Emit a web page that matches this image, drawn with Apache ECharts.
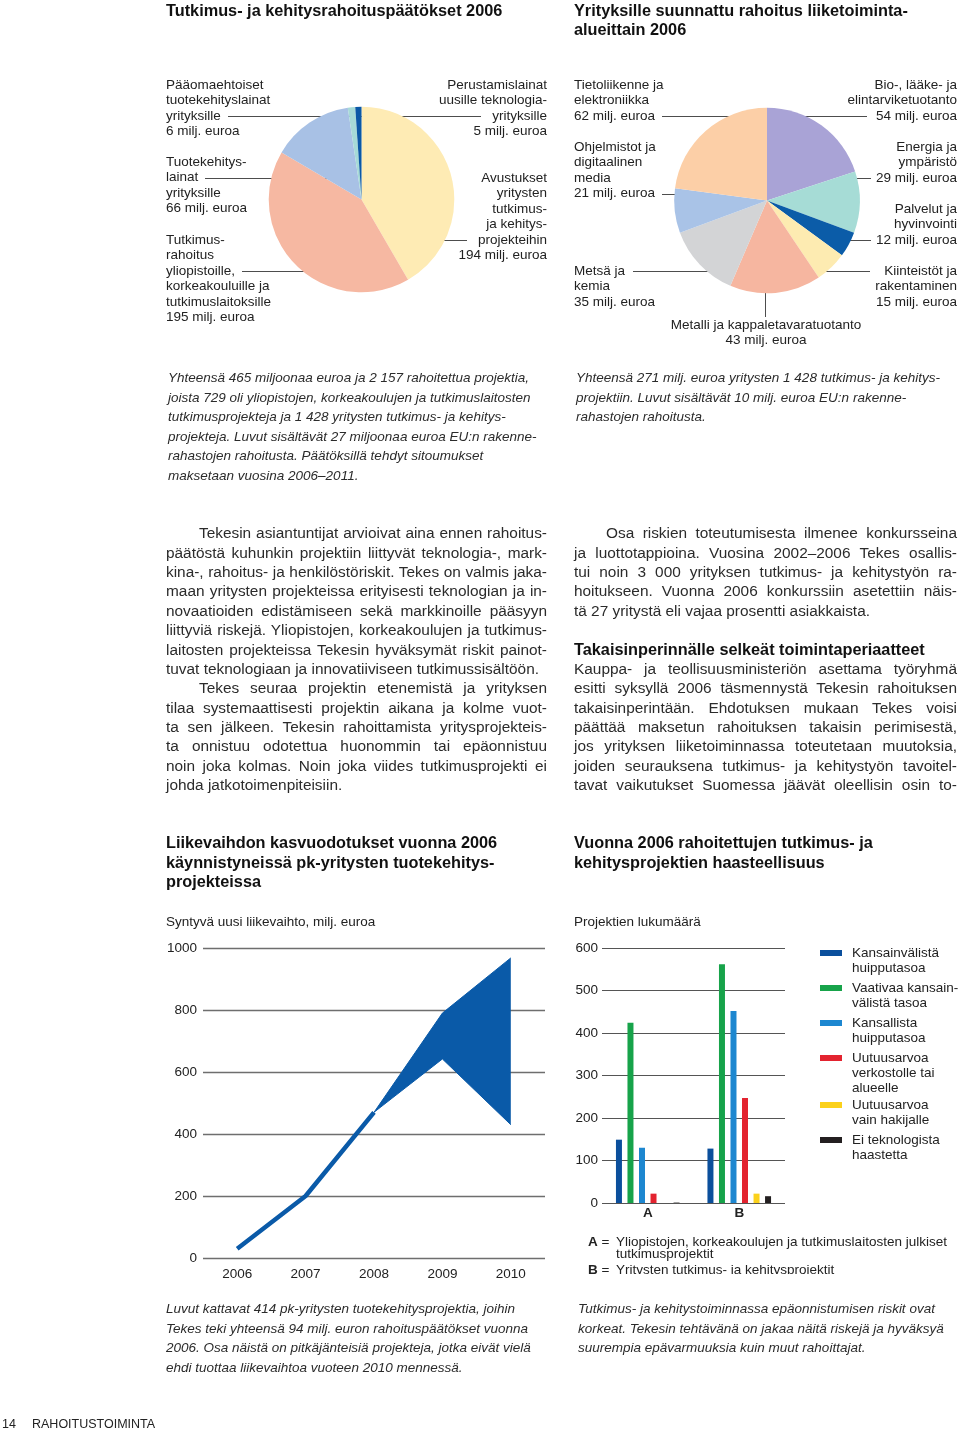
<!DOCTYPE html>
<html>
<head>
<meta charset="utf-8">
<script src="https://cdn.jsdelivr.net/npm/echarts@6/dist/echarts.min.js"></script>
<style>
html,body{margin:0;padding:0;background:#fff;}
#page{position:relative;width:960px;height:1433px;overflow:hidden;font-family:"Liberation Sans",Arial,sans-serif;color:#222;}
#chart{position:absolute;left:0;top:0;width:960px;height:1433px;z-index:1;}
.t{position:absolute;white-space:nowrap;z-index:2;}
</style>
</head>
<body>
<div id="page"><div id="chart"></div></div>
<script>
// ---------- DATA ----------
const fundingNames = [
  'Avustukset\nyritysten\ntutkimus-\nja kehitys-\nprojekteihin',
  'Tutkimus-\nrahoitus\nyliopistoille,\nkorkeakouluille ja\ntutkimuslaitoksille',
  'Tuotekehitys-\nlainat\nyrityksille',
  'Pääomaehtoiset\ntuotekehityslainat\nyrityksille',
  'Perustamislainat\nuusille teknologia-\nyrityksille'
];
const fundingValues = [194, 195, 66, 6, 5];

const sectorNames = [
  'Bio-, lääke- ja\nelintarviketuotanto',
  'Energia ja\nympäristö',
  'Palvelut ja\nhyvinvointi',
  'Kiinteistöt ja\nrakentaminen',
  'Metalli ja kappaletavaratuotanto',
  'Metsä ja\nkemia',
  'Ohjelmistot ja\ndigitaalinen\nmedia',
  'Tietoliikenne ja\nelektroniikka'
];
const sectorValues = [54, 29, 12, 15, 43, 35, 21, 62];

const years = ['2006', '2007', '2008', '2009', '2010'];
const turnoverLine = [30, 200, 470, null, null];
const turnoverLow  = [null, null, 470, 642, 430];
const turnoverHigh = [null, null, 470, 790, 968];
const turnoverTicks = [0, 1000, 200];

const groups = ['A', 'B'];
const levelNames = [
  'Kansainvälistä\nhuipputasoa',
  'Vaativaa kansain-\nvälistä tasoa',
  'Kansallista\nhuipputasoa',
  'Uutuusarvoa\nverkostolle tai\nalueelle',
  'Uutuusarvoa\nvain hakijalle',
  'Ei teknologista\nhaastetta'
];
const levelA = [149, 424, 130, 22, 0, 1];
const levelB = [128, 562, 452, 247, 22, 16];
const projectTicks = [0, 600, 100];

// ---------- STYLE / LAYOUT ----------
const FONT = '"Liberation Sans", Arial, sans-serif';
const INK = '#222';
const BLUE = '#0a5aa8';
const LH = 15.5;
const pie1Colors = ['#feebb4', '#f6b8a2', '#a8c1e5', '#a6dad7', '#0b58a6'];
const pie2Colors = ['#a9a3d6', '#a6dcd6', '#0b5ca8', '#fdebb1', '#f6b6a0', '#d3d4d6', '#a9c3e7', '#fccfa7'];
const levelColors = ['#0b4f9c', '#17a34a', '#1d87d0', '#e3232f', '#fbd11b', '#231f20'];

// label placement: x anchor, first-line centre y, align, leader row, leader x range
const pie1Layout = [
  {x: 547, y: 178, align: 'right', row: 4, from: 427, to: 467},
  {x: 166, y: 240, align: 'left',  row: 2, from: 323, to: 242},
  {x: 166, y: 162, align: 'left',  row: 1, from: 348, to: 205},
  {x: 166, y: 85,  align: 'left',  row: 2, from: 350, to: 228},
  {x: 547, y: 85,  align: 'right', row: 2, from: 358, to: 481}
];
const pie2Layout = [
  {x: 957, y: 85,  align: 'right', row: 2, from: 795, to: 867},
  {x: 957, y: 147, align: 'right', row: 2, from: 840, to: 871},
  {x: 957, y: 209, align: 'right', row: 2, from: 833, to: 871},
  {x: 957, y: 271, align: 'right', row: 0, from: 820, to: 870},
  {x: 766, y: 325, align: 'center', vert: [280, 317]},
  {x: 574, y: 271, align: 'left',  row: 0, from: 721, to: 633},
  {x: 574, y: 147, align: 'left',  row: 3, from: 689, to: 662},
  {x: 574, y: 85,  align: 'left',  row: 2, from: 740, to: 662}
];
const legendIconY = [953, 988, 1023, 1058, 1105, 1140];

function pieLayout(cfg) {
  return function (p) {
    const c = cfg[p.dataIndex];
    let pts;
    if (c.vert) {
      pts = [[c.x - 0.5, c.vert[0]], [c.x - 0.5, c.vert[1]], [c.x - 0.5, c.vert[1]]];
    } else {
      const ly = Math.round(c.y + c.row * LH) + 0.5;
      pts = [[c.from, ly], [c.to, ly], [c.to, ly]];
    }
    return {x: c.x, y: c.y - LH / 2, align: c.align, verticalAlign: 'top', labelLinePoints: pts};
  };
}

function pieSeries(names, values, colors, center, layout) {
  return {
    type: 'pie', center: center, radius: 92.8, startAngle: 90, clockwise: true,
    avoidLabelOverlap: false, silent: true, animation: false,
    emphasis: {disabled: true},
    itemStyle: {borderWidth: 0},
    data: names.map((n, i) => ({name: n, value: values[i], itemStyle: {color: colors[i]}})),
    label: {
      show: true, position: 'outside',
      formatter: p => p.name + '\n' + p.value + ' milj. euroa',
      fontSize: 13.5, lineHeight: LH, color: INK, fontFamily: FONT
    },
    labelLine: {show: true, smooth: false, lineStyle: {color: '#4d4d4d', width: 1}},
    labelLayout: pieLayout(layout)
  };
}

const dash = a => a.map(v => v == null ? '-' : v);
const bandDiff = turnoverHigh.map((v, i) => v == null ? '-' : v - turnoverLow[i]);

// one legend block per item; blank lines on top keep the swatch beside the first text line
const legendL = 15.3;
const legends = levelNames.map((name, i) => {
  const n = name.split('\n').length;
  const blockH = (2 * n - 1) * legendL;
  return {
    data: [name], orient: 'vertical', left: 820, top: legendIconY[i] - blockH / 2,
    padding: 0, itemWidth: 22, itemHeight: 6, itemGap: 0, icon: 'rect', selectedMode: false,
    formatter: nm => '\n'.repeat(n - 1) + nm,
    textStyle: {fontSize: 13.5, lineHeight: legendL, color: INK, fontFamily: FONT, padding: [0, 0, 0, 5]}
  };
});

const chart = echarts.init(document.getElementById('chart'), null, {renderer: 'canvas'});
chart.setOption({
  animation: false,
  backgroundColor: 'transparent',
  textStyle: {fontFamily: FONT},
  title: [
    {text: 'Syntyvä uusi liikevaihto, milj. euroa', left: 166, top: 914, padding: 0,
     textStyle: {fontSize: 13.5, fontWeight: 'normal', color: INK, lineHeight: 16, fontFamily: FONT}},
    {text: 'Projektien lukumäärä', left: 574, top: 914, padding: 0,
     textStyle: {fontSize: 13.5, fontWeight: 'normal', color: INK, lineHeight: 16, fontFamily: FONT}}
  ],
  legend: legends,
  grid: [
    {left: 203, right: 415, top: 948, bottom: 175, containLabel: false},
    {left: 602, right: 175, top: 948, bottom: 230, containLabel: false}
  ],
  xAxis: [
    {type: 'category', gridIndex: 0, data: years, boundaryGap: true,
     axisLine: {show: false}, axisTick: {show: false},
     axisLabel: {fontSize: 13.5, color: INK, margin: 9}},
    {type: 'category', gridIndex: 1, data: groups, boundaryGap: true,
     axisLine: {show: false}, axisTick: {show: false},
     axisLabel: {fontSize: 13.5, fontWeight: 'bold', color: INK, margin: 3}}
  ],
  yAxis: [
    {type: 'value', gridIndex: 0, min: turnoverTicks[0], max: turnoverTicks[1], interval: turnoverTicks[2],
     axisLine: {show: false}, axisTick: {show: false},
     axisLabel: {fontSize: 13.5, color: INK, margin: 6, formatter: v => String(v)},
     splitLine: {lineStyle: {color: '#6e6e6e', width: 1.4}}},
    {type: 'value', gridIndex: 1, min: projectTicks[0], max: projectTicks[1], interval: projectTicks[2],
     axisLine: {show: false}, axisTick: {show: false},
     axisLabel: {fontSize: 13.5, color: INK, margin: 4, formatter: v => String(v)},
     splitLine: {lineStyle: {color: '#555', width: 1}}}
  ],
  series: [
    pieSeries(fundingNames, fundingValues, pie1Colors, [361.5, 199.5], pie1Layout),
    pieSeries(sectorNames, sectorValues, pie2Colors, [767, 200.5], pie2Layout),
    {type: 'line', xAxisIndex: 0, yAxisIndex: 0, data: dash(turnoverLine), symbol: 'none', silent: true,
     lineStyle: {color: BLUE, width: 4.5}, z: 3},
    {type: 'line', xAxisIndex: 0, yAxisIndex: 0, data: dash(turnoverLow), stack: 'band', symbol: 'none', silent: true,
     lineStyle: {color: BLUE, width: 1}},
    {type: 'line', xAxisIndex: 0, yAxisIndex: 0, data: bandDiff, stack: 'band', symbol: 'none', silent: true,
     lineStyle: {color: BLUE, width: 1}, areaStyle: {color: BLUE, opacity: 1}}
  ].concat(levelNames.map((name, i) => ({
    type: 'bar', name: name, xAxisIndex: 1, yAxisIndex: 1,
    data: [levelA[i], levelB[i]], barWidth: 6, barGap: '92%', silent: true,
    itemStyle: {color: levelColors[i]}
  })))
});

// ---------- TEXT ----------
const page = document.getElementById('page');
function addText(x, yc, lh, text, style, justifyW) {
  const d = document.createElement('div');
  d.className = 't';
  d.style.left = x + 'px';
  d.style.top = (yc - lh / 2) + 'px';
  d.style.lineHeight = lh + 'px';
  Object.assign(d.style, style || {});
  d.textContent = text;
  page.appendChild(d);
  if (justifyW) {
    const w = d.getBoundingClientRect().width;
    const n = (text.match(/ /g) || []).length;
    if (n) d.style.wordSpacing = ((justifyW - w) / n) + 'px';
  }
  return d;
}
const H = {fontWeight: 'bold', fontSize: '16.3px', color: '#111'};
const CAP = {fontStyle: 'italic', fontSize: '13.5px', color: '#2b2b2b'};
const BODY = {fontSize: '15.4px', color: '#2b2b2b'};

addText(166, 10.5, 19.5, 'Tutkimus- ja kehitysrahoituspäätökset 2006', H);
addText(574, 10.5, 19, 'Yrityksille suunnattu rahoitus liiketoiminta-', H);
addText(574, 29.5, 19, 'alueittain 2006', H);

const capL = [
  'Yhteensä 465 miljoonaa euroa ja 2 157 rahoitettua projektia,',
  'joista 729 oli yliopistojen, korkeakoulujen ja tutkimuslaitosten',
  'tutkimusprojekteja ja 1 428 yritysten tutkimus- ja kehitys-',
  'projekteja. Luvut sisältävät 27 miljoonaa euroa EU:n rakenne-',
  'rahastojen rahoitusta. Päätöksillä tehdyt sitoumukset',
  'maksetaan vuosina 2006–2011.'
];
capL.forEach((t, i) => addText(168, 378 + i * 19.45, 19.45, t, CAP));
const capR = [
  'Yhteensä 271 milj. euroa yritysten 1 428 tutkimus- ja kehitys-',
  'projektiin. Luvut sisältävät 10 milj. euroa EU:n rakenne-',
  'rahastojen rahoitusta.'
];
capR.forEach((t, i) => addText(576, 378 + i * 19.45, 19.45, t, CAP));

// body columns: [text, indent, justify, bold]
const bodyL = [
  ['Tekesin asiantuntijat arvioivat aina ennen rahoitus-', 1, 1],
  ['päätöstä kuhunkin projektiin liittyvät teknologia-, mark-', 0, 1],
  ['kina-, rahoitus- ja henkilöstöriskit. Tekes on valmis jaka-', 0, 1],
  ['maan yritysten projekteissa erityisesti teknologian ja in-', 0, 1],
  ['novaatioiden edistämiseen sekä markkinoille pääsyyn', 0, 1],
  ['liittyviä riskejä. Yliopistojen, korkeakoulujen ja tutkimus-', 0, 1],
  ['laitosten projekteissa Tekesin hyväksymät riskit painot-', 0, 1],
  ['tuvat teknologiaan ja innovatiiviseen tutkimussisältöön.', 0, 0],
  ['Tekes seuraa projektin etenemistä ja yrityksen', 1, 1],
  ['tilaa systemaattisesti projektin aikana ja kolme vuot-', 0, 1],
  ['ta sen jälkeen. Tekesin rahoittamista yritysprojekteis-', 0, 1],
  ['ta onnistuu odotettua huonommin tai epäonnistuu', 0, 1],
  ['noin joka kolmas. Noin joka viides tutkimusprojekti ei', 0, 1],
  ['johda jatkotoimenpiteisiin.', 0, 0]
];
const bodyR = [
  ['Osa riskien toteutumisesta ilmenee konkursseina', 1, 1],
  ['ja luottotappioina. Vuosina 2002–2006 Tekes osallis-', 0, 1],
  ['tui noin 3 000 yrityksen tutkimus- ja kehitystyön ra-', 0, 1],
  ['hoitukseen. Vuonna 2006 konkurssiin asetettiin näis-', 0, 1],
  ['tä 27 yritystä eli vajaa prosentti asiakkaista.', 0, 0],
  null,
  ['Takaisinperinnälle selkeät toimintaperiaatteet', 0, 0, 1],
  ['Kauppa- ja teollisuusministeriön asettama työryhmä', 0, 1],
  ['esitti syksyllä 2006 täsmennystä Tekesin rahoituksen', 0, 1],
  ['takaisinperintään. Ehdotuksen mukaan Tekes voisi', 0, 1],
  ['päättää maksetun rahoituksen takaisin perimisestä,', 0, 1],
  ['jos yrityksen liiketoiminnassa toteutetaan muutoksia,', 0, 1],
  ['joiden seurauksena tutkimus- ja kehitystyön tavoitel-', 0, 1],
  ['tavat vaikutukset Suomessa jäävät oleellisin osin to-', 0, 1]
];
function column(lines, x0, right, indent) {
  lines.forEach((l, i) => {
    if (!l) return;
    const x = x0 + (l[1] ? indent : 0);
    const st = l[3] ? {fontWeight: 'bold', fontSize: '16.3px', color: '#111'} : BODY;
    addText(x, 533 + i * 19.38, 19.4, l[0], st, l[2] ? right - x : 0);
  });
}
column(bodyL, 166, 547, 33);
column(bodyR, 574, 957, 32);

addText(166, 843, 19.5, 'Liikevaihdon kasvuodotukset vuonna 2006', H);
addText(166, 862.5, 19.5, 'käynnistyneissä pk-yritysten tuotekehitys-', H);
addText(166, 882, 19.5, 'projekteissa', H);
addText(574, 843, 19.5, 'Vuonna 2006 rahoitettujen tutkimus- ja', H);
addText(574, 862.5, 19.5, 'kehitysprojektien haasteellisuus', H);

// A / B footnote (clipped at bottom like the reference)
const fn = document.createElement('div');
fn.style.cssText = 'position:absolute;left:580px;top:1230px;width:380px;height:44px;overflow:hidden;z-index:2;font-size:13.5px;color:#222;';
page.appendChild(fn);
function fnLine(x, yc, html) {
  const d = document.createElement('div');
  d.style.cssText = 'position:absolute;white-space:nowrap;line-height:15px;left:' + x + 'px;top:' + (yc - 7.5) + 'px;';
  d.innerHTML = html;
  fn.appendChild(d);
}
fnLine(8, 11, '<b>A</b> =');
fnLine(36, 11, 'Yliopistojen, korkeakoulujen ja tutkimuslaitosten julkiset');
fnLine(36, 23, 'tutkimusprojektit');
fnLine(8, 39, '<b>B</b> =');
fnLine(36, 39, 'Yritysten tutkimus- ja kehitysprojektit');

const capBL = [
  'Luvut kattavat 414 pk-yritysten tuotekehitysprojektia, joihin',
  'Tekes teki yhteensä 94 milj. euron rahoituspäätökset vuonna',
  '2006. Osa näistä on pitkäjänteisiä projekteja, jotka eivät vielä',
  'ehdi tuottaa liikevaihtoa vuoteen 2010 mennessä.'
];
capBL.forEach((t, i) => addText(166, 1309 + i * 19.45, 19.45, t, CAP));
const capBR = [
  'Tutkimus- ja kehitystoiminnassa epäonnistumisen riskit ovat',
  'korkeat. Tekesin tehtävänä on jakaa näitä riskejä ja hyväksyä',
  'suurempia epävarmuuksia kuin muut rahoittajat.'
];
capBR.forEach((t, i) => addText(578, 1309 + i * 19.45, 19.45, t, CAP));

addText(2, 1424, 15, '14', {fontSize: '12.5px', color: '#222'});
addText(32, 1424, 15, 'RAHOITUSTOIMINTA', {fontSize: '12.5px', color: '#222'});
</script>
</body>
</html>
